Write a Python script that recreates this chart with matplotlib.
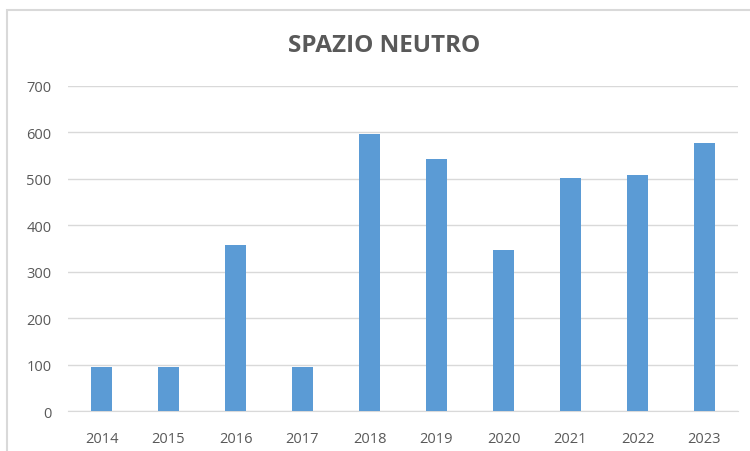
import matplotlib
matplotlib.use("Agg")
import matplotlib.pyplot as plt
from matplotlib.patches import Rectangle

# data
years = ['2014', '2015', '2016', '2017', '2018', '2019', '2020', '2021', '2022', '2023']
counts = [96, 96, 357, 96, 597, 543, 347, 502, 508, 577]
yticks = [0, 100, 200, 300, 400, 500, 600, 700]

TXT = '#595959'
GRID = '#d9d9d9'
BAR = '#5b9bd5'

plt.rcParams['font.family'] = ['Open Sans', 'DejaVu Sans']

fig = plt.figure(figsize=(7.5, 4.52), dpi=100, facecolor='white')
ax = fig.add_axes([68/750, 1 - 412.3/452, (738 - 68)/750, (412.3 - 87)/452])

x = range(len(years))
ax.bar(x, counts, width=0.31, color=BAR, zorder=3)

ax.set_xlim(-0.5, len(years) - 0.5)
ax.set_ylim(0, 700)
ax.set_yticks(yticks)
ax.set_xticks(list(x))
ax.set_xticklabels(years)
ax.grid(axis='y', color=GRID, lw=1, zorder=0)
for s in ['top', 'right', 'left']:
    ax.spines[s].set_visible(False)
ax.spines['bottom'].set_color(GRID)
ax.tick_params(length=0, colors=TXT, labelsize=10.5)
ax.tick_params(axis='y', pad=12)
ax.tick_params(axis='x', pad=14)

# chart-area border
fig.patches.append(Rectangle((7/750, -0.05), 2, 1 - 11/452 + 0.05, transform=fig.transFigure,
                             fill=False, edgecolor=GRID, lw=1.5))

fig.text(384/750, 1 - 46/452, 'SPAZIO NEUTRO', ha='center', va='center',
         fontsize=17.5, fontweight='bold', color=TXT)

fig.savefig('out.png', dpi=100)
